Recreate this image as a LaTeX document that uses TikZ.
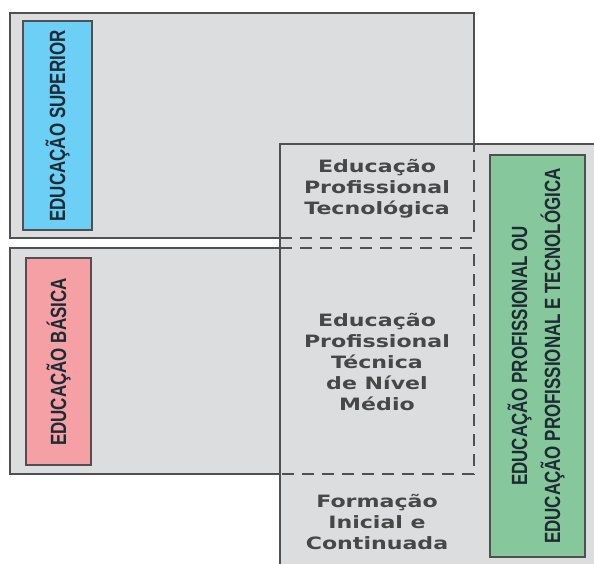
\documentclass[tikz,border=0pt]{standalone}
\usepackage{fontspec}
\setmainfont{DejaVu Sans}
\setsansfont{Liberation Sans}
\usetikzlibrary{positioning}

\definecolor{caixa}{HTML}{DCDDDF}
\definecolor{borda}{HTML}{505050}
\definecolor{azul}{HTML}{6CCFF6}
\definecolor{rosa}{HTML}{F4A0A5}
\definecolor{verde}{HTML}{86C89B}
\definecolor{texto}{HTML}{474747}
\definecolor{escuro}{HTML}{1E2A34}

\tikzset{
    bloco/.style={fill=caixa,draw=borda,line width=1.8pt},
    faixa/.style={draw=borda,line width=1.2pt},
    oculto/.style={draw=borda,line width=1.3pt,dash pattern=on 12pt off 8pt},
    etapa/.style={text=texto,align=center,xscale=1.3,transform shape,
        font=\fontsize{17}{21}\selectfont\bfseries},
    titulo/.style={rotate=90,xscale=0.77,transform shape,align=center,text=escuro,
        font=\fontsize{22}{33}\selectfont\sffamily\bfseries},
}

\begin{document}
\begin{tikzpicture}[x=1pt,y=-1pt]
    \useasboundingbox (0,0) rectangle (594,564);

    \draw[bloco] (10,13) rectangle (474,238);
    \draw[bloco] (10,248) rectangle (474,474);

    \begin{scope}
        \clip (0,0) rectangle (594,564);
        \draw[bloco] (280,144) rectangle (600,570);
    \end{scope}

    \draw[oculto] (280,238) -| (474,144);
    \draw[oculto] (280,248) -| (474,474) -- (280,474);

    \draw[faixa,fill=azul] (23,21) rectangle (92,230);
    \draw[faixa,fill=rosa] (26,258) rectangle (91,465);
    \draw[faixa,fill=verde] (490,155) rectangle (585,557);

    \node[titulo] (superior) at (57.5,126) {EDUCAÇÃO SUPERIOR};
    \node[titulo] (basica) at (58.5,362) {EDUCAÇÃO BÁSICA};
    \node[titulo] (ept) at (536,356) {EDUCAÇÃO PROFISSIONAL OU\\EDUCAÇÃO PROFISSIONAL E TECNOLÓGICA};

    \node[etapa] (tecnologica) at (377,189) {Educação\\Profissional\\Tecnológica};
    \node[etapa] (tecnica) at (377,362) {Educação\\Profissional\\Técnica\\de Nível\\Médio};
    \node[etapa] (fic) at (377,522) {Formação\\Inicial e\\Continuada};

\end{tikzpicture}
\end{document}
